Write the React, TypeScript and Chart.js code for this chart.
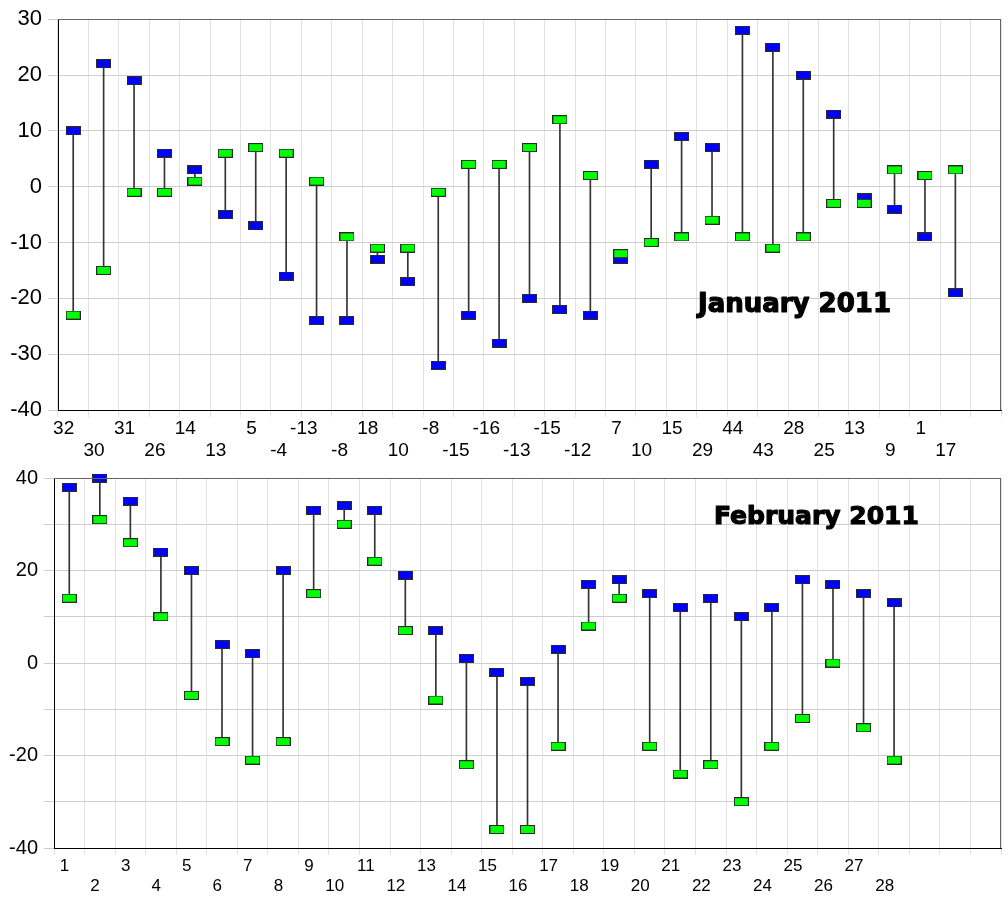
import React, { useEffect, useRef } from 'react';
import { Chart, registerables } from 'chart.js';

Chart.register(...registerables);
Chart.defaults.font.family = '"Liberation Sans", Arial, sans-serif';
Chart.defaults.color = '#000';

// ---------- January 2011 ----------
const janLabels = ['32', '30', '31', '26', '14', '13', '5', '-4', '-13', '-8', '18', '10', '-8', '-15', '-16', '-13', '-15', '-12', '7', '10', '15', '29', '44', '43', '28', '25', '13', '9', '1', '17', ''];
const janBlue = [10, 22, 19, 6, 3, -5, -7, -16, -24, -24, -13, -17, -32, -23, -28, -20, -22, -23, -13, 4, 9, 7, 28, 25, 20, 13, -2, -4, -9, -19];
const janGreen = [-23, -15, -1, -1, 1, 6, 7, 6, 1, -9, -11, -11, -1, 4, 4, 7, 12, 2, -12, -10, -9, -6, -9, -11, -9, -3, -3, 3, 2, 3];

// ---------- February 2011 ----------
const febLabels = ['1', '2', '3', '4', '5', '6', '7', '8', '9', '10', '11', '12', '13', '14', '15', '16', '17', '18', '19', '20', '21', '22', '23', '24', '25', '26', '27', '28', '', '', ''];
const febBlue = [38, 40, 35, 24, 20, 4, 2, 20, 33, 34, 33, 19, 7, 1, -2, -4, 3, 17, 18, 15, 12, 14, 10, 12, 18, 17, 15, 13];
const febGreen = [14, 31, 26, 10, -7, -17, -21, -17, 15, 30, 22, 7, -8, -22, -36, -36, -18, 8, 14, -18, -24, -22, -30, -18, -12, 0, -14, -21];

function makeMarker(fill: string): HTMLCanvasElement {
  const c = document.createElement('canvas');
  c.width = 15;
  c.height = 9;
  const ctx = c.getContext('2d')!;
  ctx.fillStyle = '#2a2a2a';
  ctx.fillRect(0, 0, 15, 9);
  ctx.fillStyle = fill;
  ctx.fillRect(1, 1, 13, 7);
  return c;
}

const framePlugin = {
  id: 'frame',
  afterDraw(chart: any, _args: any, opts: any) {
    const { ctx, chartArea: a } = chart;
    ctx.save();
    ctx.strokeStyle = '#666';
    ctx.lineWidth = 1;
    ctx.beginPath();
    ctx.moveTo(a.left, Math.round(a.top) + 0.5);
    ctx.lineTo(a.right, Math.round(a.top) + 0.5);
    ctx.moveTo(Math.round(a.right) - 0.5, a.top);
    ctx.lineTo(Math.round(a.right) - 0.5, a.bottom);
    ctx.stroke();
    ctx.font = `bold ${opts.size}px "DejaVu Sans"`;
    ctx.fillStyle = '#000';
    ctx.strokeStyle = '#000';
    ctx.lineWidth = 1.2;
    ctx.lineJoin = 'round';
    ctx.textBaseline = 'alphabetic';
    ctx.textAlign = 'left';
    ctx.fillText(opts.text, opts.x, opts.y);
    ctx.strokeText(opts.text, opts.x, opts.y);
    ctx.restore();
  },
};

interface Cfg {
  labels: string[];
  blue: number[];
  green: number[];
  yMin: number;
  yMax: number;
  yStep: number;
  yLabelStep: number;
  yFont: number;
  xFont: number;
  xLineHeight: number;
  yWidth: number;
  xHeight: number;
  padTop: number;
  padRight: number;
  labelOffset: number;
  title: string;
  titleX: number;
  titleY: number;
  titleSize: number;
}

function makeConfig(p: Cfg): any {
  const blueMarker = makeMarker('#0000ff');
  const greenMarker = makeMarker('#00ff00');
  const spans = p.blue.map((b, i) => [Math.min(b, p.green[i]), Math.max(b, p.green[i])]);
  return {
    type: 'bar',
    data: {
      labels: p.labels,
      datasets: [
        {
          type: 'line',
          label: 'green',
          data: p.green,
          showLine: false,
          pointStyle: greenMarker,
          pointRadius: 6,
          clip: false,
          order: 1,
        },
        {
          type: 'line',
          label: 'blue',
          data: p.blue,
          showLine: false,
          pointStyle: blueMarker,
          pointRadius: 6,
          clip: false,
          order: 2,
        },
        {
          type: 'bar',
          label: 'range',
          data: spans,
          backgroundColor: '#333',
          barThickness: 1,
          order: 3,
        },
      ],
    },
    options: {
      responsive: false,
      devicePixelRatio: 1,
      animation: false,
      events: [],
      layout: { padding: { top: p.padTop, right: p.padRight, left: 0, bottom: 0 } },
      plugins: {
        legend: { display: false },
        tooltip: { enabled: false },
        frame: { text: p.title, x: p.titleX, y: p.titleY, size: p.titleSize },
      },
      scales: {
        x: {
          type: 'category',
          offset: true,
          grid: { offset: true, color: '#e2e2e2', tickLength: 7, drawTicks: true },
          border: { display: true, color: '#000', width: 1 },
          ticks: {
            autoSkip: false,
            maxRotation: 0,
            minRotation: 0,
            align: 'end',
            labelOffset: p.labelOffset,
            padding: 1,
            font: { size: p.xFont, lineHeight: p.xLineHeight },
            callback: (_v: any, i: number) => {
              const l = p.labels[i];
              return i % 2 === 0 ? l : ['', l];
            },
          },
          afterFit: (s: any) => {
            s.height = p.xHeight;
          },
        },
        y: {
          min: p.yMin,
          max: p.yMax,
          grid: { color: '#cecece', tickLength: 10 },
          border: { display: true, color: '#000', width: 1 },
          ticks: {
            stepSize: p.yStep,
            padding: 6,
            font: { size: p.yFont },
            callback: (v: number) => (v % p.yLabelStep === 0 ? String(v) : ''),
          },
          afterFit: (s: any) => {
            s.width = p.yWidth;
          },
        },
      },
    },
    plugins: [framePlugin],
  };
}

export default function App() {
  const topRef = useRef<HTMLCanvasElement>(null);
  const botRef = useRef<HTMLCanvasElement>(null);

  useEffect(() => {
    const c1 = new Chart(
      topRef.current!,
      makeConfig({
        labels: janLabels,
        blue: janBlue,
        green: janGreen,
        yMin: -40,
        yMax: 30,
        yStep: 5,
        yLabelStep: 10,
        yFont: 22,
        xFont: 19,
        xLineHeight: 21.6 / 19,
        yWidth: 58,
        xHeight: 50,
        padTop: 16,
        padRight: 3,
        labelOffset: 1,
        title: 'January 2011',
        titleX: 698,
        titleY: 312,
        titleSize: 26,
      })
    );
    const c2 = new Chart(
      botRef.current!,
      makeConfig({
        labels: febLabels,
        blue: febBlue,
        green: febGreen,
        yMin: -40,
        yMax: 40,
        yStep: 10,
        yLabelStep: 20,
        yFont: 20,
        xFont: 17,
        xLineHeight: 20 / 17,
        yWidth: 54,
        xHeight: 54,
        padTop: 14,
        padRight: 5,
        labelOffset: 0,
        title: 'February 2011',
        titleX: 714,
        titleY: 64,
        titleSize: 25,
      })
    );
    return () => {
      c1.destroy();
      c2.destroy();
    };
  }, []);

  return (
    <div style={{ position: 'absolute', left: 0, top: 0, width: 1008, height: 902, background: '#fff' }}>
      <canvas ref={topRef} width={1008} height={460} style={{ position: 'absolute', left: 0, top: 0 }} />
      <canvas ref={botRef} width={1008} height={442} style={{ position: 'absolute', left: 0, top: 460 }} />
    </div>
  );
}
